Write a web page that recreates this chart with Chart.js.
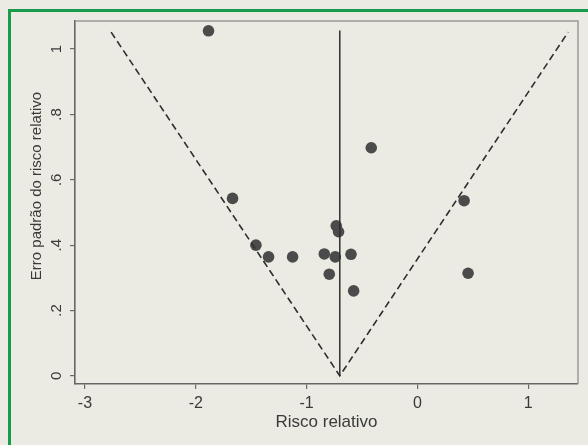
<!DOCTYPE html>
<html>
<head>
<meta charset="utf-8">
<script src="https://cdn.jsdelivr.net/npm/chart.js@4.4.0/dist/chart.umd.min.js"></script>
<style>
  html, body { margin: 0; padding: 0; background: #ebebe3; overflow: hidden; }
  #wrap { position: relative; width: 588px; height: 445px; }
  #frame { position: absolute; left: 8px; top: 9px; width: 700px; height: 600px; border: 3px solid #169c4a; }
  canvas { position: absolute; left: 0; top: 0; }
</style>
</head>
<body>
<div id="wrap">
  <div id="frame"></div>
  <canvas id="funnel" width="588" height="445"></canvas>
</div>
<script>
// ---------- Data ----------
const studyRR = [-1.885, -1.668, -1.457, -1.343, -1.126, -0.840, -0.795, -0.741, -0.732, -0.711, -0.599, -0.575, -0.416, 0.422, 0.458];
const studySE = [1.056, 0.543, 0.400, 0.364, 0.364, 0.373, 0.311, 0.364, 0.459, 0.441, 0.372, 0.260, 0.698, 0.536, 0.314];

const pooledX = [-0.70, -0.70];
const pooledY = [0, 1.057];

const funnelX = [-2.764, -0.70, 1.361];
const funnelY = [1.052, 0, 1.052];

const xTicks = [-3, -2, -1, 0, 1];
const yTicks = [0, 0.2, 0.4, 0.6, 0.8, 1];

const xTitle = "Risco relativo";
const yTitle = "Erro padrão do risco relativo";

const textColor = "#3a3a3a";

function toPoints(xs, ys) {
  return xs.map((x, i) => ({ x: x, y: ys[i] }));
}

function stataLabel(v) {
  if (v === 0) return "0";
  if (v === 1) return "1";
  return String(Math.round(v * 10) / 10).replace("0.", ".");
}

// ---------- Frame + rotated y labels ----------
const stataPlugin = {
  id: "stata",
  beforeDatasetsDraw(chart) {
    const { ctx, chartArea: a } = chart;
    ctx.save();
    ctx.strokeStyle = "#9a9a9a";
    ctx.lineWidth = 1.5;
    ctx.beginPath();
    ctx.moveTo(a.left, a.top);
    ctx.lineTo(a.right, a.top);
    ctx.lineTo(a.right, a.bottom);
    ctx.stroke();
    ctx.restore();
  },
  afterDraw(chart) {
    const { ctx } = chart;
    const y = chart.scales.y;
    ctx.save();
    ctx.fillStyle = textColor;
    ctx.textAlign = "center";
    ctx.textBaseline = "middle";
    ctx.font = "15px 'Liberation Sans', Arial, sans-serif";
    yTicks.forEach(v => {
      const py = y.getPixelForValue(v);
      ctx.save();
      ctx.translate(57, py);
      ctx.rotate(-Math.PI / 2);
      ctx.fillText(stataLabel(v), 0, 0);
      ctx.restore();
    });
    ctx.font = "15px 'Liberation Sans', Arial, sans-serif";
    ctx.translate(37, 186);
    ctx.rotate(-Math.PI / 2);
    ctx.fillText(yTitle, 0, 0);
    ctx.restore();
  }
};

// ---------- Chart ----------
const ctx = document.getElementById("funnel").getContext("2d");
new Chart(ctx, {
  type: "scatter",
  data: {
    datasets: [
      {
        type: "line",
        data: toPoints(pooledX, pooledY),
        borderColor: "#2e2e2e",
        borderWidth: 1.5,
        pointRadius: 0,
        fill: false,
        order: 0
      },
      {
        type: "line",
        data: toPoints(funnelX, funnelY),
        borderColor: "#2e2e2e",
        borderWidth: 1.6,
        borderDash: [7, 4],
        pointRadius: 0,
        fill: false,
        order: 0
      },
      {
        data: toPoints(studyRR, studySE),
        backgroundColor: "#4b4b4b",
        borderWidth: 0,
        pointRadius: 5.8,
        order: 1
      }
    ]
  },
  options: {
    responsive: false,
    animation: false,
    events: [],
    layout: { padding: { top: 21, right: 10, left: 0, bottom: 0 } },
    plugins: { legend: { display: false }, tooltip: { enabled: false } },
    scales: {
      x: {
        type: "linear",
        min: -3.09,
        max: 1.45,
        afterBuildTicks: s => { s.ticks = xTicks.map(v => ({ value: v })); },
        afterFit: s => { s.height = 61; },
        grid: { drawOnChartArea: false, drawTicks: true, tickLength: 5, color: "#6a6a6a", lineWidth: 1.2 },
        border: { color: "#666", width: 1.6 },
        ticks: {
          color: textColor,
          padding: 5,
          maxRotation: 0,
          font: { family: "'Liberation Sans', Arial, sans-serif", size: 16 },
          callback: v => String(v)
        },
        title: {
          display: true,
          text: xTitle,
          color: textColor,
          padding: { top: 0, bottom: 12 },
          font: { family: "'Liberation Sans', Arial, sans-serif", size: 17 }
        }
      },
      y: {
        type: "linear",
        min: -0.025,
        max: 1.086,
        afterBuildTicks: s => { s.ticks = yTicks.map(v => ({ value: v })); },
        afterFit: s => { s.width = 75; },
        grid: { drawOnChartArea: false, drawTicks: true, tickLength: 5, color: "#6a6a6a", lineWidth: 1.2 },
        border: { color: "#666", width: 1.6 },
        ticks: { display: false }
      }
    }
  },
  plugins: [stataPlugin]
});
</script>
</body>
</html>
